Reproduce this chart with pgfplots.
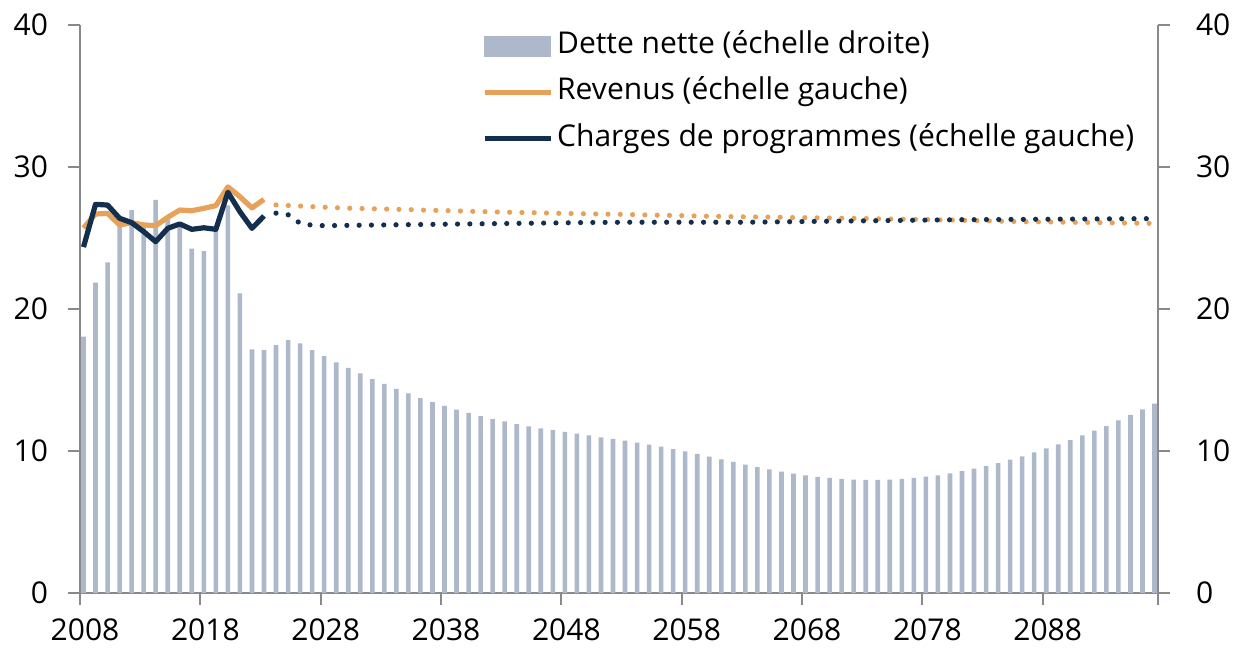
\documentclass[border=0pt]{standalone}
\usepackage{fontspec}
\setmainfont{Open Sans}
\usepackage{pgfplots}
\pgfplotsset{compat=1.18}
\usepackage{pgfplotstable}
\definecolor{barcol}{RGB}{173,185,202}
\definecolor{orangecol}{RGB}{232,161,88}
\definecolor{navycol}{RGB}{20,46,77}
\definecolor{axiscol}{RGB}{137,137,137}

\pgfplotstableread{
year val
2008 18.05
2009 21.85
2010 23.29
2011 26.2
2012 26.97
2013 25.8
2014 27.68
2015 26.4
2016 25.9
2017 24.25
2018 24.08
2019 25.7
2020 27.3
2021 21.1
2022 17.15
2023 17.13
2024 17.46
2025 17.81
2026 17.58
2027 17.11
2028 16.69
2029 16.24
2030 15.85
2031 15.47
2032 15.07
2033 14.72
2034 14.37
2035 14.06
2036 13.73
2037 13.45
2038 13.17
2039 12.91
2040 12.68
2041 12.46
2042 12.25
2043 12.09
2044 11.90
2045 11.74
2046 11.60
2047 11.48
2048 11.34
2049 11.22
2050 11.10
2051 10.96
2052 10.85
2053 10.73
2054 10.59
2055 10.45
2056 10.31
2057 10.14
2058 9.98
2059 9.79
2060 9.60
2061 9.41
2062 9.23
2063 9.04
2064 8.87
2065 8.71
2066 8.54
2067 8.40
2068 8.29
2069 8.17
2070 8.10
2071 8.03
2072 7.98
2073 7.96
2074 7.96
2075 7.98
2076 8.03
2077 8.10
2078 8.19
2079 8.29
2080 8.43
2081 8.59
2082 8.76
2083 8.94
2084 9.15
2085 9.39
2086 9.62
2087 9.91
2088 10.19
2089 10.47
2090 10.77
2091 11.10
2092 11.43
2093 11.76
2094 12.16
2095 12.54
2096 12.93
2097 13.33
}\dette

\pgfplotstableread{
year val
2008 25.70
2009 26.69
2010 26.73
2011 25.92
2012 26.08
2013 25.92
2014 25.87
2015 26.46
2016 26.97
2017 26.92
2018 27.09
2019 27.28
2020 28.60
2021 27.91
2022 27.12
2023 27.72
}\revhist

\pgfplotstableread{
year val
2008 24.36
2009 27.37
2010 27.32
2011 26.39
2012 26.08
2013 25.45
2014 24.74
2015 25.68
2016 25.99
2017 25.61
2018 25.72
2019 25.61
2020 28.22
2021 26.85
2022 25.68
2023 26.55
}\chghist

\pgfplotstableread{
year val
2024 27.33
2025 27.29
2026 27.25
2027 27.21
2028 27.17
2029 27.13
2030 27.10
2031 27.08
2032 27.06
2033 27.04
2034 27.02
2035 27.00
2036 26.97
2037 26.95
2038 26.93
2039 26.91
2040 26.88
2041 26.86
2042 26.84
2043 26.82
2044 26.80
2045 26.79
2046 26.77
2047 26.75
2048 26.73
2049 26.72
2050 26.70
2051 26.69
2052 26.67
2053 26.66
2054 26.64
2055 26.62
2056 26.60
2057 26.59
2058 26.57
2059 26.55
2060 26.53
2061 26.52
2062 26.50
2063 26.49
2064 26.48
2065 26.47
2066 26.46
2067 26.44
2068 26.43
2069 26.42
2070 26.41
2071 26.39
2072 26.38
2073 26.37
2074 26.35
2075 26.34
2076 26.32
2077 26.31
2078 26.30
2079 26.28
2080 26.27
2081 26.25
2082 26.23
2083 26.21
2084 26.19
2085 26.17
2086 26.15
2087 26.14
2088 26.13
2089 26.12
2090 26.11
2091 26.10
2092 26.09
2093 26.08
2094 26.06
2095 26.05
2096 26.04
2097 26.03
}\revproj

\pgfplotstableread{
year val
2024 26.75
2025 26.64
2026 26.04
2027 25.90
2028 25.87
2029 25.88
2030 25.89
2031 25.90
2032 25.91
2033 25.92
2034 25.93
2035 25.94
2036 25.95
2037 25.96
2038 25.97
2039 25.98
2040 25.99
2041 26.00
2042 26.01
2043 26.02
2044 26.03
2045 26.04
2046 26.05
2047 26.06
2048 26.07
2049 26.08
2050 26.09
2051 26.10
2052 26.10
2053 26.11
2054 26.11
2055 26.11
2056 26.11
2057 26.11
2058 26.11
2059 26.11
2060 26.11
2061 26.11
2062 26.11
2063 26.11
2064 26.12
2065 26.13
2066 26.14
2067 26.15
2068 26.16
2069 26.17
2070 26.18
2071 26.19
2072 26.20
2073 26.21
2074 26.22
2075 26.23
2076 26.24
2077 26.25
2078 26.26
2079 26.27
2080 26.28
2081 26.29
2082 26.29
2083 26.30
2084 26.30
2085 26.31
2086 26.31
2087 26.32
2088 26.32
2089 26.33
2090 26.33
2091 26.34
2092 26.34
2093 26.35
2094 26.35
2095 26.36
2096 26.36
2097 26.37
}\chgproj

\pgfplotsset{
  base/.style={
    scale only axis, width=539pt, height=284pt,
    at={(0pt,0pt)}, anchor=south west,
    xmin=2007.71, xmax=2097.29, ymin=0, ymax=40,
    ytick={0,10,20,30,40},
    axis line style={axiscol, line width=1pt},
    major tick style={axiscol, line width=1pt},
    major tick length=6pt,
    tick align=outside,
    ticklabel style={font=\fontsize{15}{18}\selectfont, text=black},
    /pgf/number format/assume math mode=true,
    clip=false,
  },
}

\begin{document}
\begin{tikzpicture}
\begin{axis}[base,
  axis y line*=right, axis x line*=bottom,
  xtick={2007.71,2017.71,2027.71,2037.71,2047.71,2057.71,2067.71,2077.71,2087.71,2097.29},
  xticklabels={2008,2018,2028,2038,2048,2058,2068,2078,2088,{}},
  xticklabel style={xshift=2.5pt, yshift=-5.5pt, inner sep=1pt},
  yticklabel style={xshift=9.5pt},
  ytick pos=right,
]
\addplot[ybar, bar width=2.3pt, fill=barcol, draw=none] table[x=year,y=val]{\dette};
\end{axis}
\begin{axis}[base,
  axis y line*=left, axis x line=none,
  yticklabel style={xshift=-6.5pt},
  legend style={at={(0.3729,1.0025)}, anchor=north west, draw=none, fill=none,
    inner sep=0pt, outer sep=0pt, font=\fontsize{15}{18}\selectfont,
    nodes={text height=11pt, text depth=3.5pt, inner ysep=4pt},
    row sep=0.7pt},
  legend cell align=left,
  legend image code/.code={\draw[#1] (0pt,0pt) -- (33pt,0pt);},
]
\addlegendimage{legend image code/.code={\fill[barcol] (0pt,-5pt) rectangle (33pt,5pt);}}
\addlegendentry{Dette nette (échelle droite)}
\addplot[orangecol, line width=2.6pt, line join=round] table[x=year,y=val]{\revhist};
\addlegendentry{Revenus (échelle gauche)}
\addplot[navycol, line width=2.6pt, line join=round] table[x=year,y=val]{\chghist};
\addlegendentry{Charges de programmes (échelle gauche)}
\addplot[forget plot, orangecol, line width=2.6pt, line cap=round, dash pattern=on 0pt off 6.15pt] table[x=year,y=val]{\revproj};
\addplot[forget plot, navycol, line width=2.6pt, line cap=round, dash pattern=on 0pt off 6.15pt] table[x=year,y=val]{\chgproj};
\end{axis}
\pgfresetboundingbox
\path[use as bounding box] (-40pt,-30pt) rectangle (577.5pt,296.5pt);
\end{tikzpicture}
\end{document}
